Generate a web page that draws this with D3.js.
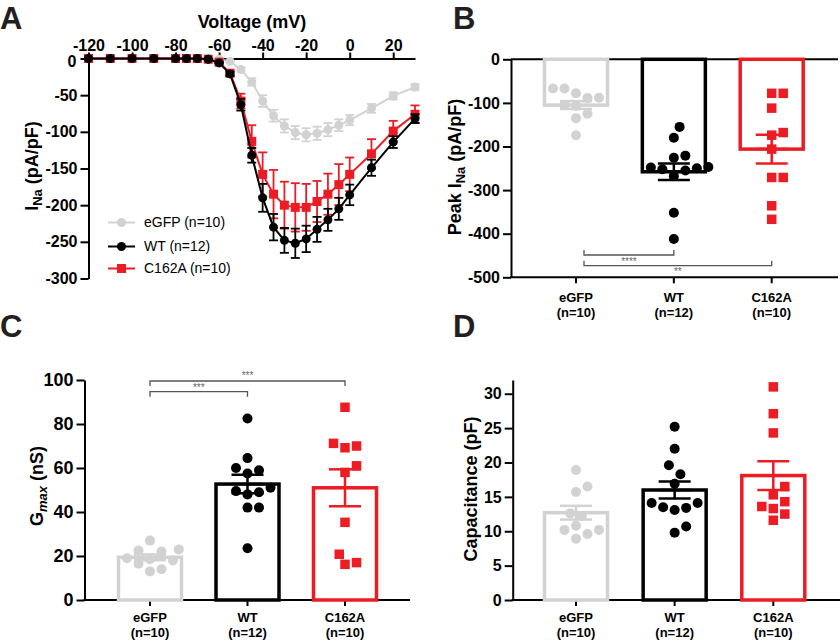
<!DOCTYPE html>
<html><head><meta charset="utf-8">
<script src="https://cdn.jsdelivr.net/npm/d3@7"></script>
<style>body{margin:0;background:#fff}svg{display:block}</style>
</head><body><svg id="c" width="840" height="641"></svg>
<script>
// ---------- DATA ----------
const voltages = [-120,-110,-100,-90,-80,-75,-70,-65,-60,-55,-50,-45,-40,-35,-30,-25,-20,-15,-10,-5,0,10,20,30];
const voltTicks = [-120,-100,-80,-60,-40,-20,0,20];
const ivTicks = [0,-50,-100,-150,-200,-250,-300];
const ivEGFP = [0,0,0,0,0,0,0,-0.5,-1,-4,-15,-32,-58,-78,-92,-101,-104,-102,-97,-91,-84,-68,-51,-39];
const ivEGFPsem = [0,0,0,0,0,0,0,0,0.5,1,3,5,8,8,9,9,9,9,9,8,7,6,5,4];
const ivWT = [0,0,0,0,0,0,0,-1,-6,-21,-63,-132,-190,-230,-248,-252,-246,-233,-220,-205,-186,-149,-114,-82];
const ivWTsem = [0,0,0,0,0,0,0,0.5,1,3,8,10,19,18,17,20,18,17,15,15,14,11,8,6];
const ivC162A = [0,0,0,0,0,0,0,-1,-5,-20,-58,-113,-158,-185,-200,-203,-203,-195,-185,-172,-158,-130,-99,-76];
const ivC162Asem = [0,0,0,0,0,0,0,0.5,1,3,10,22,30,33,32,33,32,28,28,28,23,20,14,12];
const legendLabels = ["eGFP (n=10)","WT (n=12)","C162A (n=10)"];

const groups = ["eGFP","WT","C162A"];
const nLabels = ["(n=10)","(n=12)","(n=10)"];

const peakEGFP = [-78,-67,-67,-89,-88,-105,-107,-125,-135,-174];
const peakWT = [-155,-180,-221,-226,-247,-250,-252,-248,-255,-268,-352,-412];
const peakC162A = [-78,-78,-112,-168,-174,-206,-271,-271,-336,-367];
const peakMean = [-105,-258,-206];
const peakSem = [9,19,33];
const peakTicks = [0,-100,-200,-300,-400,-500];

const gmaxEGFP = [27,23,22,22.5,19,18.5,18,16.5,13,14];
const gmaxWT = [82.5,64.5,59,60,57.5,49.5,48,49,51,42,42,23.5];
const gmaxC162A = [87.6,70,69.2,71.2,61,58,35.3,20.8,16.2,17];
const gmaxMean = [19.4,52.7,51];
const gmaxSem = [1.3,4.2,8.4];
const gmaxTicks = [0,20,40,60,80,100];

const capEGFP = [18.9,15.7,16.5,12.6,12.2,10.8,10.2,9.6,10.2,8.9];
const capWT = [25.2,22,19.6,18.3,16.9,14.1,14.1,13.4,13.1,13.5,10.7,9.8];
const capC162A = [31,27.1,24.3,16.5,15.3,14.3,13.3,13.6,12.5,11.6];
const capMean = [12.7,16.0,18.1];
const capSem = [1.0,1.25,2.1];
const capTicks = [0,5,10,15,20,25,30];

const peakSig = [["eGFP","WT","****"],["eGFP","C162A","**"]];
const gmaxSig = [["eGFP","WT","***"],["eGFP","C162A","***"]];

// ---------- STYLE ----------
const FONT = '"Liberation Sans", Arial, Helvetica, sans-serif';
const colors = {eGFP:"#d2d2d2", WT:"#000000", C162A:"#ec1c24"};
const svg = d3.select("#c").attr("font-family", FONT);

function styleAxis(g, fs){
  g.attr("font-family", FONT);
  g.selectAll(".domain").attr("stroke","#000").attr("stroke-width",2);
  g.selectAll(".tick line").attr("stroke","#000").attr("stroke-width",2);
  g.selectAll(".tick text").attr("font-size",fs).attr("font-weight","bold").attr("fill","#000");
}
function marker(sel, group, cx, cy, size){
  if(group==="C162A"){
    sel.append("rect").attr("x",cx-size/2).attr("y",cy-size/2).attr("width",size).attr("height",size).attr("fill",colors[group]);
  } else {
    sel.append("circle").attr("cx",cx).attr("cy",cy).attr("r",size/2).attr("fill",colors[group]);
  }
}
function panelLetter(t,x,y){
  svg.append("text").attr("x",x).attr("y",y).attr("font-size",31).attr("font-weight","bold").attr("fill","#231f20").text(t);
}

// ---------- PANEL A ----------
(function(){
  const x = d3.scaleLinear().domain([-120,30]).range([88.5,415]);
  const y = d3.scaleLinear().domain([0,-300]).range([58.5,278.5]);
  const g = svg.append("g");
  const ax = g.append("g").attr("transform",`translate(0,${y(0)})`)
    .call(d3.axisTop(x).tickValues(voltTicks).tickSize(6).tickSizeOuter(0).tickPadding(2).tickFormat(d=>String(d)));
  styleAxis(ax,16);
  const ay = g.append("g").attr("transform",`translate(${x(-120)},0)`)
    .call(d3.axisLeft(y).tickValues(ivTicks).tickSize(8).tickSizeOuter(0).tickPadding(3).tickFormat(d=>String(d)));
  styleAxis(ay,16);
  ay.selectAll(".tick text").filter(d=>d===0).attr("dy","0.5em").attr("x",-12);
  g.append("text").attr("x",252).attr("y",28).attr("text-anchor","middle").attr("font-size",18).attr("font-weight","bold").text("Voltage (mV)");
  const yl = g.append("text").attr("transform","translate(38,166) rotate(-90)").attr("text-anchor","middle").attr("font-size",18).attr("font-weight","bold");
  yl.append("tspan").text("I");
  yl.append("tspan").attr("dy",4).attr("font-size",13).text("Na");
  yl.append("tspan").attr("dy",-4).text(" (pA/pF)");

  const series = [
    {key:"eGFP", m:ivEGFP, s:ivEGFPsem},
    {key:"C162A", m:ivC162A, s:ivC162Asem},
    {key:"WT", m:ivWT, s:ivWTsem}
  ];
  const line = d3.line().x((d,i)=>x(voltages[i])).y(d=>y(d));
  series.forEach(sr=>{
    const c = colors[sr.key];
    const sg = g.append("g");
    sg.append("path").attr("d",line(sr.m)).attr("fill","none").attr("stroke",c).attr("stroke-width",2);
    sr.m.forEach((v,i)=>{
      const cx = x(voltages[i]), s = sr.s[i];
      if(s>0){
        const y1 = y(v-s), y2 = y(v+s);
        sg.append("line").attr("x1",cx).attr("x2",cx).attr("y1",y1).attr("y2",y2).attr("stroke",c).attr("stroke-width",1.8);
        [y1,y2].forEach(yy=>sg.append("line").attr("x1",cx-4.5).attr("x2",cx+4.5).attr("y1",yy).attr("y2",yy).attr("stroke",c).attr("stroke-width",1.8));
      }
      marker(sg, sr.key, cx, y(v), 9);
    });
  });
  // legend
  const lg = g.append("g");
  const rows = [222.5,246.5,268.5];
  groups.forEach((k,i)=>{
    lg.append("line").attr("x1",108).attr("x2",135).attr("y1",rows[i]).attr("y2",rows[i]).attr("stroke",colors[k]).attr("stroke-width",2);
    marker(lg,k,121.5,rows[i],9);
    lg.append("text").attr("x",144).attr("y",rows[i]).attr("dy","0.35em").attr("font-size",14).attr("fill","#000").text(legendLabels[i]);
  });
})();

// ---------- BAR PANELS ----------
function swarm(vals, y, r){
  const order = vals.map((v,i)=>i).sort((a,b)=>vals[a]-vals[b]);
  const placed = [], out = new Array(vals.length);
  const minD = 2*r+1.2, half = (2*r+1.5)/2;
  const cands = [0]; for(let j=1;j<14;j++){cands.push(j*half,-j*half);}
  for(const i of order){
    const py = y(vals[i]);
    let px = 0;
    for(const c of cands){
      if(placed.every(p=>Math.hypot(p[0]-c,p[1]-py)>=minD)){px=c;break;}
    }
    placed.push([px,py]); out[i]=px;
  }
  return out;
}

function barPanel(o){
  const g = svg.append("g");
  const x = d3.scalePoint().domain(groups).range(o.xRange);
  const y = o.y;
  const ay = g.append("g").attr("transform",`translate(${o.x0},0)`)
    .call(d3.axisLeft(y).tickValues(o.ticks).tickSize(8).tickSizeOuter(0).tickPadding(3).tickFormat(d=>String(d)));
  styleAxis(ay,o.tickFs);
  const yBase = y(o.baseVal);
  g.append("line").attr("x1",o.x0-1).attr("x2",o.xEnd).attr("y1",yBase).attr("y2",yBase).attr("stroke","#000").attr("stroke-width",2);
  if(o.topLine){
    g.append("line").attr("x1",o.x0).attr("x2",o.xEnd).attr("y1",y(0)).attr("y2",y(0)).attr("stroke","#000").attr("stroke-width",2);
  }
  groups.forEach((k,i)=>{
    const cx = x(k);
    g.append("line").attr("x1",cx).attr("x2",cx).attr("y1",yBase).attr("y2",yBase+6).attr("stroke","#000").attr("stroke-width",2);
    g.append("text").attr("x",cx).attr("y",o.catY).attr("text-anchor","middle").attr("font-size",13).attr("font-weight","bold").text(k);
    g.append("text").attr("x",cx).attr("y",o.catY+15).attr("text-anchor","middle").attr("font-size",13).attr("font-weight","bold").text(nLabels[i]);
  });
  // bars
  const bw = 63;
  groups.forEach((k,i)=>{
    const cx = x(k), y0 = y(0), ym = y(o.means[i]);
    g.append("rect").attr("x",cx-bw/2).attr("y",Math.min(y0,ym)).attr("width",bw).attr("height",Math.abs(ym-y0))
      .attr("fill","none").attr("stroke",colors[k]).attr("stroke-width",3.5);
  });
  // points
  groups.forEach((k,i)=>{
    const cx = x(k), vals = o.sets[i];
    const offs = swarm(vals,y,5);
    vals.forEach((v,j)=>marker(g,k,cx+offs[j],y(v),k==="C162A"?9.5:10));
  });
  // error bars
  groups.forEach((k,i)=>{
    const cx = x(k), m=o.means[i], s=o.sems[i], c=colors[k];
    const y1=y(m-s), y2=y(m+s), w=16;
    g.append("line").attr("x1",cx).attr("x2",cx).attr("y1",y1).attr("y2",y2).attr("stroke",c).attr("stroke-width",2.5);
    [y1,y2,y(m)].forEach(yy=>g.append("line").attr("x1",cx-w).attr("x2",cx+w).attr("y1",yy).attr("y2",yy).attr("stroke",c).attr("stroke-width",2.5));
  });
  // significance
  if(o.sig){
    o.sig.forEach((sg,i)=>{
      const xa = x(sg[0])+(o.sigOffset||0), xb = x(sg[1]), yy = o.sigY[i], d = o.sigDir;
      g.append("path").attr("d",`M${xa},${yy+d*5}V${yy}H${xb}V${yy+d*5}`).attr("fill","none").attr("stroke","#555").attr("stroke-width",1.3);
      g.append("text").attr("x",(xa+xb)/2).attr("y",o.sigTextY[i]).attr("text-anchor","middle").attr("font-size",10).attr("fill","#666").text(sg[2]);
    });
  }
  // y label
  const yl = g.append("text").attr("transform",`translate(${o.labelX},${o.labelY}) rotate(-90)`).attr("text-anchor","middle").attr("font-size",18).attr("font-weight","bold");
  o.label(yl);
  return g;
}

// B
barPanel({
  x0:511, xRange:[576,771.7], xEnd:838, y:d3.scaleLinear().domain([-500,0]).range([277.3,59.3]),
  ticks:peakTicks, tickFs:16, baseVal:-500, topLine:true, catY:302,
  sets:[peakEGFP,peakWT,peakC162A], means:peakMean, sems:peakSem,
  sig:peakSig, sigY:[255,265.7], sigDir:-1, sigTextY:[264.5,275], sigOffset:8,
  labelX:461, labelY:167,
  label:t=>{t.append("tspan").text("Peak I");t.append("tspan").attr("dy",4).attr("font-size",13).text("Na");t.append("tspan").attr("dy",-4).text(" (pA/pF)");}
});
// C
barPanel({
  x0:84.5, xRange:[150,345], xEnd:410, y:d3.scaleLinear().domain([0,100]).range([600,380]),
  ticks:gmaxTicks, tickFs:18, baseVal:0, topLine:false, catY:622,
  sets:[gmaxEGFP,gmaxWT,gmaxC162A], means:gmaxMean, sems:gmaxSem,
  sig:gmaxSig, sigY:[391.7,381], sigDir:1, sigTextY:[390.5,379], sigOffset:0,
  labelX:43, labelY:486,
  label:t=>{t.append("tspan").text("G");t.append("tspan").attr("dy",4).attr("font-size",13).attr("font-style","italic").text("max");t.append("tspan").attr("dy",-4).text(" (nS)");}
});
// D
barPanel({
  x0:512.7, xRange:[576,773.3], xEnd:840, y:d3.scaleLinear().domain([0,32]).range([600,380]),
  ticks:capTicks, tickFs:16, baseVal:0, topLine:false, catY:622,
  sets:[capEGFP,capWT,capC162A], means:capMean, sems:capSem,
  labelX:477, labelY:489,
  label:t=>{t.text("Capacitance (pF)");}
});

panelLetter("A",0,29);
panelLetter("B",453,29);
panelLetter("C",0,337);
panelLetter("D",453,337);
</script></body></html>
